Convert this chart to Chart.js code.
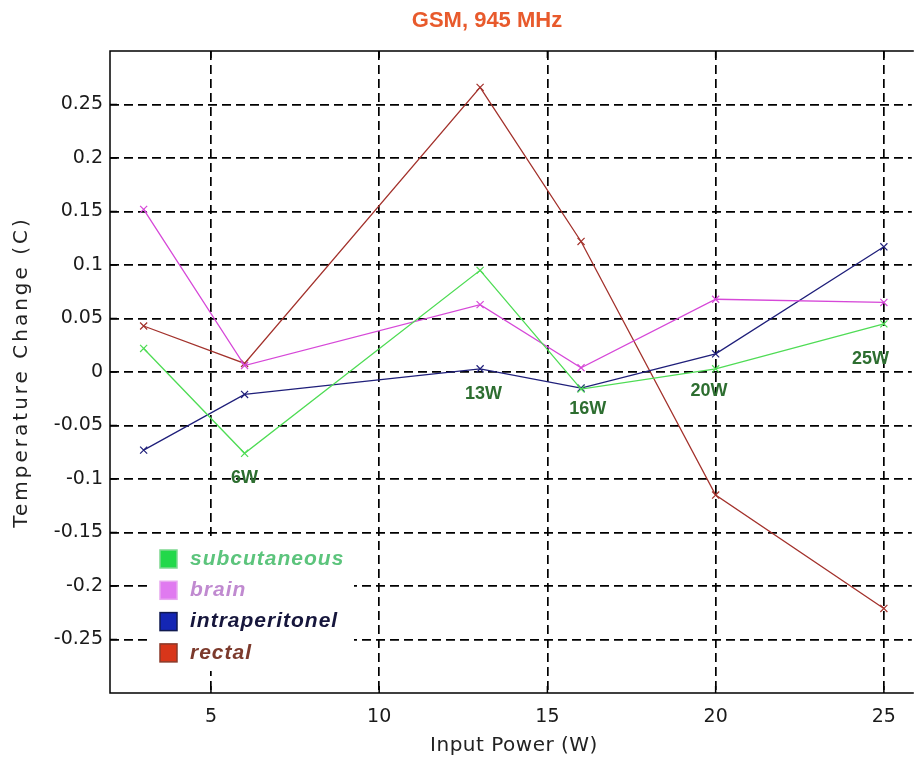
<!DOCTYPE html>
<html>
<head>
<meta charset="utf-8">
<script src="https://cdn.jsdelivr.net/npm/chart.js@4.4.1/dist/chart.umd.min.js"></script>
<style>
html, body { margin: 0; padding: 0; background: #fff; overflow: hidden; }
</style>
</head>
<body>
<canvas id="chart" width="918" height="764"></canvas>
<script>
// values
var inputPower = [3, 6, 13, 16, 20, 25];
var subcutaneous = [0.022, -0.076, 0.095, -0.016, 0.003, 0.045];
var brain = [0.152, 0.006, 0.063, 0.004, 0.068, 0.065];
var intraperitonel = [-0.073, -0.021, 0.003, -0.015, 0.017, 0.117];
var rectal = [0.043, 0.008, 0.266, 0.122, -0.115, -0.221];

var xTicks = [5, 10, 15, 20, 25];
var yTicks = [-0.25, -0.2, -0.15, -0.1, -0.05, 0, 0.05, 0.1, 0.15, 0.2, 0.25];

// the green "xW" notes inside the plot
var powerNotes = ["6W", "13W", "16W", "20W", "25W"];
var powerNoteX = [6.0, 13.1, 16.2, 19.8, 24.6];
var powerNoteY = [-0.099, -0.021, -0.035, -0.018, 0.012];

var seriesNames = ["subcutaneous", "brain", "intraperitonel", "rectal"];
var lineColors = ["#4fdc55", "#d648d8", "#1f1f7a", "#a3322c"];
var swatchColors = ["#22d84a", "#e07af0", "#1426b4", "#d8361a"];
var swatchEdges = ["#7ed890", "#e8a8f0", "#101a50", "#8a3a2a"];
var nameColors = ["#5cc47c", "#c08ad0", "#16163c", "#7c3a2c"];

function points(values) {
    var out = [];
    for (var i = 0; i < inputPower.length; i++) {
        out.push({ x: inputPower[i], y: values[i] });
    }
    return out;
}

//--------------------------------------------------------------------
// * frame, inner ticks, notes, legend and titles
//--------------------------------------------------------------------
var decorations = {
    id: 'decorations',
    beforeDatasetsDraw: function(chart) {
        var ctx = chart.ctx;
        var a = chart.chartArea;
        var xs = chart.scales.x, ys = chart.scales.y;
        ctx.save();
        ctx.strokeStyle = '#000';
        ctx.lineWidth = 1.5;
        ctx.beginPath();
        ctx.moveTo(a.right + 2, a.top);
        ctx.lineTo(a.left, a.top);
        ctx.lineTo(a.left, a.bottom);
        ctx.lineTo(a.right + 2, a.bottom);
        ctx.stroke();
        ctx.beginPath();
        yTicks.forEach(function(v) {
            var py = ys.getPixelForValue(v);
            ctx.moveTo(a.left, py);
            ctx.lineTo(a.left + 7, py);
        });
        xTicks.forEach(function(v) {
            var px = xs.getPixelForValue(v);
            ctx.moveTo(px, a.bottom);
            ctx.lineTo(px, a.bottom - 7);
            ctx.moveTo(px, a.top);
            ctx.lineTo(px, a.top + 7);
        });
        ctx.stroke();
        ctx.restore();
    },
    afterDatasetsDraw: function(chart) {
        var ctx = chart.ctx;
        var xs = chart.scales.x, ys = chart.scales.y;
        ctx.save();

        // power notes
        ctx.fillStyle = '#2d6e30';
        ctx.font = 'bold 18px "Liberation Sans", Arial, sans-serif';
        ctx.textAlign = 'center';
        ctx.textBaseline = 'middle';
        for (var i = 0; i < powerNotes.length; i++) {
            ctx.fillText(powerNotes[i], xs.getPixelForValue(powerNoteX[i]), ys.getPixelForValue(powerNoteY[i]));
        }

        // legend box
        ctx.fillStyle = '#fff';
        ctx.fillRect(150, 541, 204, 130);
        ctx.font = 'italic bold 21px "Liberation Sans", Arial, sans-serif';
        ctx.textAlign = 'left';
        for (var j = 0; j < seriesNames.length; j++) {
            var cy = 559 + j * 31.3;
            ctx.fillStyle = swatchColors[j];
            ctx.fillRect(160, cy - 9, 17, 18);
            ctx.strokeStyle = swatchEdges[j];
            ctx.lineWidth = 1.5;
            ctx.strokeRect(160, cy - 9, 17, 18);
            ctx.fillStyle = nameColors[j];
            ctx.letterSpacing = '1px';
            ctx.fillText(seriesNames[j], 190, cy);
            ctx.letterSpacing = '0px';
        }
        ctx.restore();
    },
    afterDraw: function(chart) {
        var ctx = chart.ctx;
        var a = chart.chartArea;
        ctx.save();
        ctx.textAlign = 'center';
        ctx.textBaseline = 'middle';

        ctx.fillStyle = '#e85a2c';
        ctx.font = 'bold 22px "Liberation Sans", Arial, sans-serif';
        ctx.fillText('GSM, 945 MHz', 487, 21);

        ctx.fillStyle = '#222';
        ctx.font = '20px "DejaVu Sans", sans-serif';
        ctx.letterSpacing = '0.5px';
        ctx.fillText('Input Power (W)', 514, 746);

        ctx.translate(22, (a.top + a.bottom) / 2);
        ctx.rotate(-Math.PI / 2);
        ctx.letterSpacing = '3px';
        ctx.fillText('Temperature Change (C)', 0, 0);
        ctx.restore();
    }
};

//--------------------------------------------------------------------
// * Make the Chart
//--------------------------------------------------------------------
function makeChart() {
    var ctx = document.getElementById('chart').getContext('2d');
    var values = [subcutaneous, brain, intraperitonel, rectal];
    var sets = [];
    for (var i = 0; i < values.length; i++) {
        sets.push({
            label: seriesNames[i],
            data: points(values[i]),
            borderColor: lineColors[i],
            backgroundColor: lineColors[i],
            borderWidth: 1.3,
            pointStyle: 'crossRot',
            pointRadius: 5,
            pointBorderWidth: 1.2,
            pointBorderColor: lineColors[i],
            tension: 0
        });
    }

    var chart = new Chart(ctx, {
        type: 'line',
        data: { datasets: sets },
        plugins: [decorations],
        options: {
            responsive: false,
            animation: false,
            layout: { padding: { top: 51, left: 0, right: 0, bottom: 0 } },
            plugins: {
                legend: { display: false },
                title: { display: false },
                tooltip: { enabled: false }
            },
            scales: {
                x: {
                    type: 'linear',
                    min: 2,
                    max: 25.83,
                    afterBuildTicks: function(axis) {
                        axis.ticks = xTicks.map(function(v) { return { value: v }; });
                    },
                    afterFit: function(axis) { axis.height = 71; },
                    grid: { color: '#000', lineWidth: 1.7, drawTicks: false },
                    border: { display: false, dash: [9, 5] },
                    ticks: {
                        padding: 13,
                        color: '#1a1a1a',
                        font: { family: 'DejaVu Sans', size: 19 },
                        maxRotation: 0
                    }
                },
                y: {
                    min: -0.3,
                    max: 0.3,
                    afterBuildTicks: function(axis) {
                        axis.ticks = yTicks.map(function(v) { return { value: v }; });
                    },
                    afterFit: function(axis) { axis.width = 110; },
                    grid: { color: '#000', lineWidth: 1.7, drawTicks: false },
                    border: { display: false, dash: [9, 5] },
                    ticks: {
                        padding: 7,
                        color: '#1a1a1a',
                        font: { family: 'DejaVu Sans', size: 19 },
                        callback: function(v) { return String(Math.round(v * 100) / 100); }
                    }
                }
            }
        }
    });
}

makeChart();
</script>
</body>
</html>
